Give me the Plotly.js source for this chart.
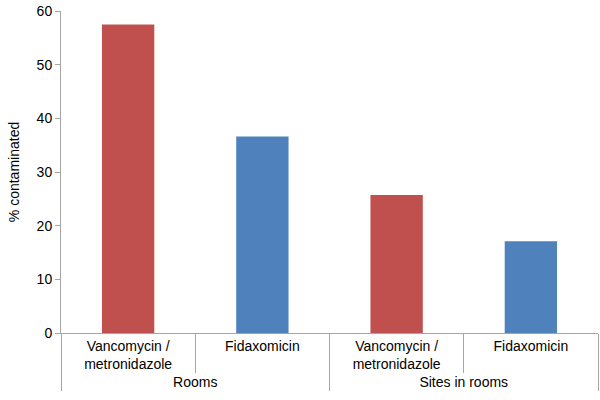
<!DOCTYPE html>
<html>
<head>
<meta charset="utf-8">
<script src="https://cdn.plot.ly/plotly-3.0.1.min.js"></script>
<style>
  html, body { margin: 0; padding: 0; background: #fff; }
  #chart { width: 600px; height: 400px; }
</style>
</head>
<body>
<div id="chart"></div>
<script>
// ---- data ----
const groups = ['Rooms', 'Rooms', 'Sites in rooms', 'Sites in rooms'];
const treatments = ['Vancomycin /<br>metronidazole', 'Fidaxomicin', 'Vancomycin /<br>metronidazole', 'Fidaxomicin'];
const pctContaminated = [57.5, 36.6, 25.7, 17.1];
const barColors = ['#C0504D', '#4F81BD', '#C0504D', '#4F81BD'];

const axisGrey = '#A6A6A6';
const textCol = '#000000';

Plotly.newPlot('chart', [{
  type: 'bar',
  x: [groups, treatments],
  y: pctContaminated,
  marker: { color: barColors, line: { width: 0 } },
  hoverinfo: 'none',
}], {
  width: 600,
  height: 400,
  font: { family: 'Liberation Sans, Arial, sans-serif', size: 14, color: textCol },
  paper_bgcolor: '#fff',
  plot_bgcolor: '#fff',
  margin: { l: 61, r: 2, t: 11, b: 67 },
  bargap: 0.61,
  showlegend: false,
  xaxis: {
    type: 'multicategory',
    showline: true,
    linecolor: axisGrey,
    linewidth: 1,
    ticks: 'outside',
    tickson: 'boundaries',
    ticklen: 39,
    tickcolor: axisGrey,
    showdividers: true,
    dividercolor: axisGrey,
    dividerwidth: 1,
    tickfont: { size: 14, color: textCol },
  },
  yaxis: {
    range: [0, 60],
    dtick: 10,
    showgrid: false,
    zeroline: false,
    showline: true,
    linecolor: axisGrey,
    linewidth: 1,
    ticks: 'outside',
    ticklen: 5,
    tickcolor: axisGrey,
    tickfont: { size: 14, color: textCol },
    title: { text: '% contaminated', font: { size: 14, color: textCol }, standoff: 13 },
  },
}, { displayModeBar: false, staticPlot: true });
</script>
</body>
</html>
